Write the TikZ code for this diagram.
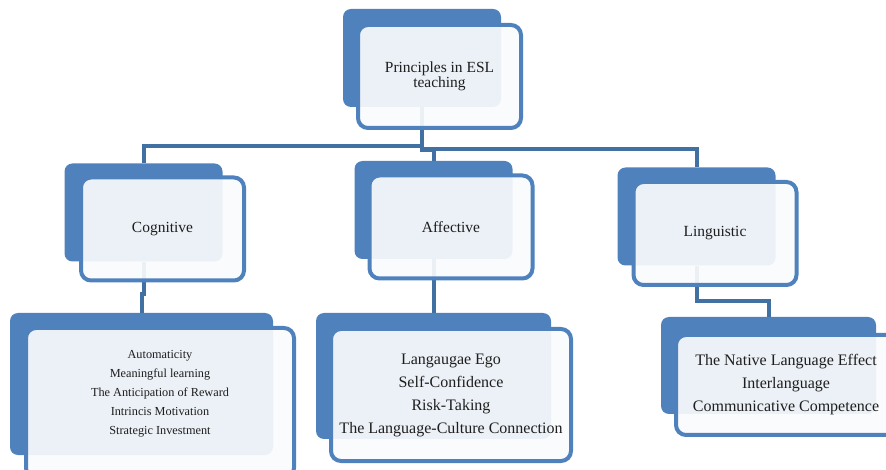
\documentclass[tikz,border=0pt]{standalone}
\usepackage{fontspec}
\setmainfont{Liberation Serif}

\definecolor{boxblue}{RGB}{79,129,189}
\definecolor{linkblue}{RGB}{65,113,163}
\definecolor{paleblue}{RGB}{250,251,253}
\definecolor{inkgray}{RGB}{30,30,30}

\newcommand\headfont{\fontsize{11.6}{11}\selectfont}
\newcommand\listfont{\fontsize{12}{17.25}\selectfont}
\newcommand\smalllistfont{\fontsize{9.2}{14.25}\selectfont}

\tikzset{
  backbox/.style={rectangle, rounded corners=6pt, fill=boxblue, inner sep=0pt},
  frontbox/.style={rectangle, rounded corners=7.5pt, draw=boxblue, line width=3pt,
    fill=paleblue, fill opacity=0.92, text opacity=1, text=inkgray, align=center, inner sep=0pt},
  headback/.style={minimum width=118.5pt, minimum height=73.5pt},
  headfront/.style={minimum width=122.25pt, minimum height=77.25pt, font=\headfont},
  link/.style={draw=linkblue, line width=3pt},
}

\begin{document}
\begin{tikzpicture}[x=0.75pt, y=-0.75pt]
  \useasboundingbox (0,0) rectangle (886,470);
  \clip (0,0) rectangle (886,470);

  % dark panels behind
  \node[backbox, headback] (principlesBack) at (422,58) {};
  \node[backbox, headback] (cognitiveBack) at (143.5,212.5) {};
  \node[backbox, headback] (affectiveBack) at (433.5,210) {};
  \node[backbox, headback] (linguisticBack) at (696.5,216.5) {};
  \node[backbox, minimum width=197.25pt, minimum height=106.5pt] (cognitiveListBack) at (141.5,384) {};
  \node[backbox, minimum width=176.25pt, minimum height=94.5pt] (affectiveListBack) at (433.5,376) {};
  \node[backbox, minimum width=161.25pt, minimum height=72.75pt] (linguisticListBack) at (768.5,365.5) {};

  % elbow links (under the light panels)
  \draw[link] (principlesBack.south) -- ++(0,38.5) -| (cognitiveBack.north);
  \draw[link] (principlesBack.south) -- ++(0,43) -| (affectiveBack.north);
  \draw[link] (principlesBack.south) -- ++(0,42) -| (linguisticBack.north);
  \draw[link] (cognitiveBack.south) -- ++(0,32) -| (cognitiveListBack.north);
  \draw[link] (affectiveBack.south) -- (affectiveListBack.north);
  \draw[link] (linguisticBack.south) -- ++(0,35) -| (linguisticListBack.north);

  % light panels with the text
  \node[frontbox, headfront] (principles) at (439.5,76.5) {Principles in ESL\\teaching};
  \node[frontbox, headfront] (cognitive) at (162.5,229) {Cognitive};
  \node[frontbox, headfront] (affective) at (451,227) {Affective};
  \node[frontbox, headfront] (linguistic) at (715,233.5) {Linguistic};

  % this panel runs off the bottom, so the empty last line lifts the text
  \node[frontbox, minimum width=201pt, minimum height=112.5pt, font=\smalllistfont] (cognitiveList) at (160,403)
    {Automaticity\\Meaningful learning\\The Anticipation of Reward\\Intrincis Motivation\\Strategic Investment\\[2.25pt]\mbox{}};
  \node[frontbox, minimum width=180pt, minimum height=99pt, font=\listfont] (affectiveList) at (451,395)
    {Langaugae Ego\\Self-Confidence\\Risk-Taking\\The Language-Culture Connection};
  \node[frontbox, minimum width=165pt, minimum height=75pt, font=\listfont] (linguisticList) at (786,385)
    {The Native Language Effect\\Interlanguage\\Communicative Competence};
\end{tikzpicture}
\end{document}
